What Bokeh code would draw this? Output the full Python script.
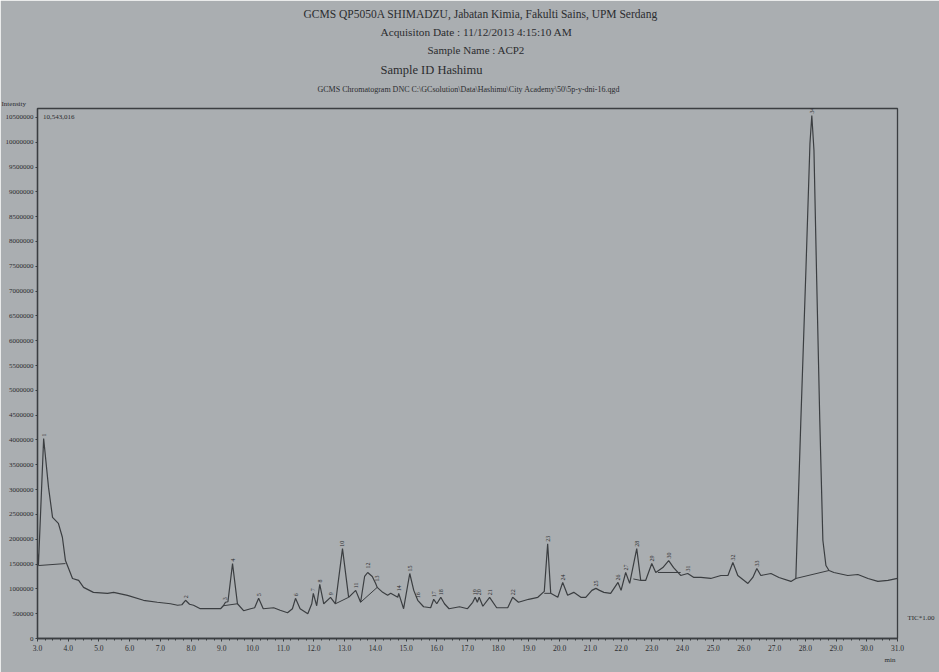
from bokeh.plotting import figure
from bokeh.models import (Range1d, FixedTicker, NumeralTickFormatter, Label, ColumnDataSource,
                          Title, LinearAxis)
from bokeh.core.properties import value
from bokeh.embed import file_html
from bokeh.resources import INLINE
import numpy as np

# ---- chromatogram trace (retention time in min, intensity in millions) ----
rt = [3.00, 3.03, 3.20, 3.36, 3.49, 3.68, 3.81, 3.91, 4.00, 4.14, 4.34, 4.50, 4.82, 5.28, 5.48,
      5.93, 6.45, 6.90, 7.33, 7.56, 7.70, 7.82, 7.95, 8.08, 8.30, 8.96, 9.05, 9.12, 9.20, 9.35,
      9.51, 9.71, 9.94, 10.07, 10.20, 10.35, 10.69, 10.90, 11.14, 11.30, 11.40, 11.55, 11.80, 11.93,
      11.98, 12.09, 12.19, 12.32, 12.54, 12.70, 12.93, 13.13, 13.36, 13.52, 13.65, 13.75, 13.90,
      14.01, 14.06, 14.24, 14.40, 14.50, 14.73, 14.76, 14.92, 15.12, 15.25, 15.38, 15.57, 15.80,
      15.90, 16.00, 16.13, 16.25, 16.40, 16.74, 17.00, 17.17, 17.25, 17.32, 17.38, 17.50, 17.72,
      17.95, 18.31, 18.47, 18.66, 18.99, 19.29, 19.50, 19.61, 19.71, 19.94, 20.10, 20.26, 20.46,
      20.69, 20.85, 21.05, 21.18, 21.30, 21.44, 21.66, 21.90, 22.00, 22.15, 22.28, 22.51, 22.64,
      22.80, 23.00, 23.13, 23.36, 23.55, 23.71, 23.94, 24.17, 24.37, 24.60, 24.92, 25.25, 25.48,
      25.64, 25.80, 26.13, 26.29, 26.42, 26.55, 26.88, 27.14, 27.53, 27.69, 27.85, 28.02, 28.15,
      28.21, 28.28, 28.37, 28.47, 28.57, 28.67, 28.77, 28.93, 29.38, 29.71, 30.04, 30.36, 30.69, 31.00]
intensity_m = [1.71, 1.47, 4.03, 3.04, 2.44, 2.32, 2.04, 1.57, 1.43, 1.21, 1.17, 1.03, 0.93, 0.91, 0.93,
               0.87, 0.77, 0.73, 0.70, 0.67, 0.68, 0.77, 0.69, 0.67, 0.60, 0.60, 0.66, 0.73, 0.74, 1.51,
               0.70, 0.56, 0.60, 0.62, 0.81, 0.60, 0.62, 0.57, 0.52, 0.60, 0.81, 0.60, 0.50, 0.70,
               0.91, 0.66, 1.09, 0.70, 0.83, 0.70, 1.81, 0.83, 0.97, 0.73, 1.25, 1.33, 1.25,
               1.11, 1.03, 0.93, 0.87, 0.91, 0.83, 0.91, 0.60, 1.31, 0.97, 0.77, 0.64, 0.62,
               0.79, 0.70, 0.83, 0.70, 0.60, 0.64, 0.60, 0.73, 0.83, 0.73, 0.83, 0.65, 0.83,
               0.62, 0.62, 0.83, 0.73, 0.79, 0.83, 0.95, 1.91, 0.91, 0.83, 1.13, 0.87, 0.93,
               0.83, 0.83, 0.97, 1.01, 0.97, 0.93, 0.91, 1.13, 0.97, 1.33, 1.11, 1.81, 1.17,
               1.17, 1.51, 1.33, 1.43, 1.57, 1.43, 1.27, 1.31, 1.23, 1.23, 1.21, 1.27, 1.27,
               1.53, 1.27, 1.11, 1.23, 1.41, 1.27, 1.31, 1.23, 1.15, 1.21, 4.33, 7.46, 9.98,
               10.54, 9.84, 7.20, 4.39, 1.98, 1.47, 1.37, 1.33, 1.27, 1.29, 1.21, 1.15, 1.17, 1.21]

# ---- detected peaks (apex) ----
peak_rt = [3.20, 7.82, 9.12, 9.35, 10.20, 11.40, 11.98, 12.19, 12.54, 12.93, 13.36, 13.75, 14.05,
           14.76, 15.12, 15.38, 15.90, 16.13, 17.25, 17.38, 17.72, 18.47, 19.61, 20.10, 21.18,
           21.90, 22.15, 22.51, 23.00, 23.55, 24.17, 25.64, 26.42, 28.21]
peak_int_m = [4.03, 0.77, 0.73, 1.51, 0.81, 0.81, 0.91, 1.09, 0.83, 1.81, 0.97, 1.37, 1.11,
              0.91, 1.31, 0.77, 0.79, 0.83, 0.83, 0.83, 0.83, 0.83, 1.91, 1.13, 1.01,
              1.13, 1.33, 1.81, 1.51, 1.57, 1.31, 1.53, 1.41, 10.54]
peak_no = [str(i + 1) for i in range(len(peak_rt))]

# ---- integration baselines (start rt, start int, end rt, end int) ----
bl_t0 = [3.03, 9.05, 12.70, 13.52, 19.50, 22.40, 23.20, 27.69]
bl_i0 = [1.47, 0.66, 0.70, 0.73, 0.91, 1.20, 1.33, 1.21]
bl_t1 = [3.91, 9.51, 13.13, 14.06, 19.71, 22.64, 23.94, 28.77]
bl_i1 = [1.51, 0.70, 0.83, 1.03, 0.91, 1.17, 1.33, 1.37]

y_ticks = list(range(0, 10_500_001, 500_000))
x_ticks = list(range(3, 32))
tic_level = 420_000

BG = "#aaaeb1"
INK = "#3b3e41"
TXT = "#2a2c2f"
SERIF = "Liberation Serif"

p = figure(width=939, height=672, x_range=Range1d(3.0, 31.0), y_range=Range1d(0, 10_680_000),
           output_backend="svg", toolbar_location=None,
           min_border_left=37, min_border_right=42, min_border_top=108, min_border_bottom=34)
p.background_fill_color = BG
p.border_fill_color = BG
p.outline_line_color = INK
p.outline_line_width = 1.3
p.xgrid.visible = False
p.ygrid.visible = False

src = ColumnDataSource(dict(t=rt, i=[v * 1e6 for v in intensity_m]))
p.line("t", "i", source=src, line_color=INK, line_width=1.2)

p.segment(x0=bl_t0, y0=[v * 1e6 for v in bl_i0], x1=bl_t1, y1=[v * 1e6 for v in bl_i1],
          line_color=INK, line_width=1.0)

psrc = ColumnDataSource(dict(t=peak_rt, i=[v * 1e6 for v in peak_int_m], n=peak_no))
p.text("t", "i", text="n", source=psrc, angle=np.pi / 2, text_align="left", text_baseline="middle",
       y_offset=-2, text_font=value(SERIF), text_font_size="6px", text_color=TXT)

# axes
ax = p.xaxis[0]
ax.ticker = FixedTicker(ticks=x_ticks, minor_ticks=list(np.arange(3.0, 31.01, 0.25)))
ax.formatter = NumeralTickFormatter(format="0.0")
ax.major_label_text_font = SERIF
ax.major_label_text_font_size = "7.5px"
ax.major_label_text_color = TXT
ax.major_label_standoff = 3
ax.major_tick_in = 0
ax.major_tick_out = 3
ax.minor_tick_in = 0
ax.minor_tick_out = 2
ax.axis_line_color = INK
ax.axis_line_width = 1.3
ax.major_tick_line_color = INK
ax.minor_tick_line_color = INK

ay = p.yaxis[0]
ay.ticker = FixedTicker(ticks=y_ticks)
ay.formatter = NumeralTickFormatter(format="0")
ay.major_label_text_font = SERIF
ay.major_label_text_font_size = "7px"
ay.major_label_text_color = TXT
ay.major_label_standoff = 2
ay.major_tick_in = 0
ay.major_tick_out = 2
ay.minor_tick_line_color = None
ay.axis_line_color = INK
ay.axis_line_width = 1.3
ay.major_tick_line_color = INK

# right-hand trace name at the trace's end level
rax = LinearAxis(ticker=FixedTicker(ticks=[tic_level]),
                 major_label_overrides={tic_level: "TIC*1.00"},
                 axis_line_color=None, major_tick_line_color=None, minor_tick_line_color=None,
                 major_label_standoff=4, major_label_text_font=SERIF,
                 major_label_text_font_size="7px", major_label_text_color=TXT)
p.add_layout(rax, "right")

# "min" unit under the x axis, right aligned
p.add_layout(Title(text="min", align="right", offset=2, text_font=SERIF, text_font_size="7px",
                   text_font_style="normal", text_color=TXT, standoff=1), "below")

# value of the highest point, inside the frame
p.add_layout(Label(x=3.18, y=10_500_000, text="10,543,016", text_align="left",
                   text_baseline="middle", text_font=SERIF, text_font_size="7px", text_color=TXT))


# header rows, added from the frame upwards
def row(text, size, standoff, offset):
    p.add_layout(Title(text=text, align="left", offset=offset, text_font=SERIF,
                       text_font_size=size, text_font_style="normal", text_color=TXT,
                       standoff=standoff), "above")


row("Intensity", "7px", 1, -36)
row("GCMS Chromatogram DNC C:\\GCsolution\\Data\\Hashimu\\City Academy\\50\\5p-y-dni-16.qgd",
    "8px", 7, 280)
row("Sample ID    Hashimu", "12.5px", 6, 343)
row("Sample Name : ACP2", "11px", 4, 390)
row("Acquisiton Date : 11/12/2013 4:15:10 AM", "11.3px", 4, 343)
row("GCMS QP5050A SHIMADZU, Jabatan Kimia, Fakulti Sains, UPM Serdang", "11.5px", 4, 266)

open("out.html", "w").write(file_html(p, INLINE))
